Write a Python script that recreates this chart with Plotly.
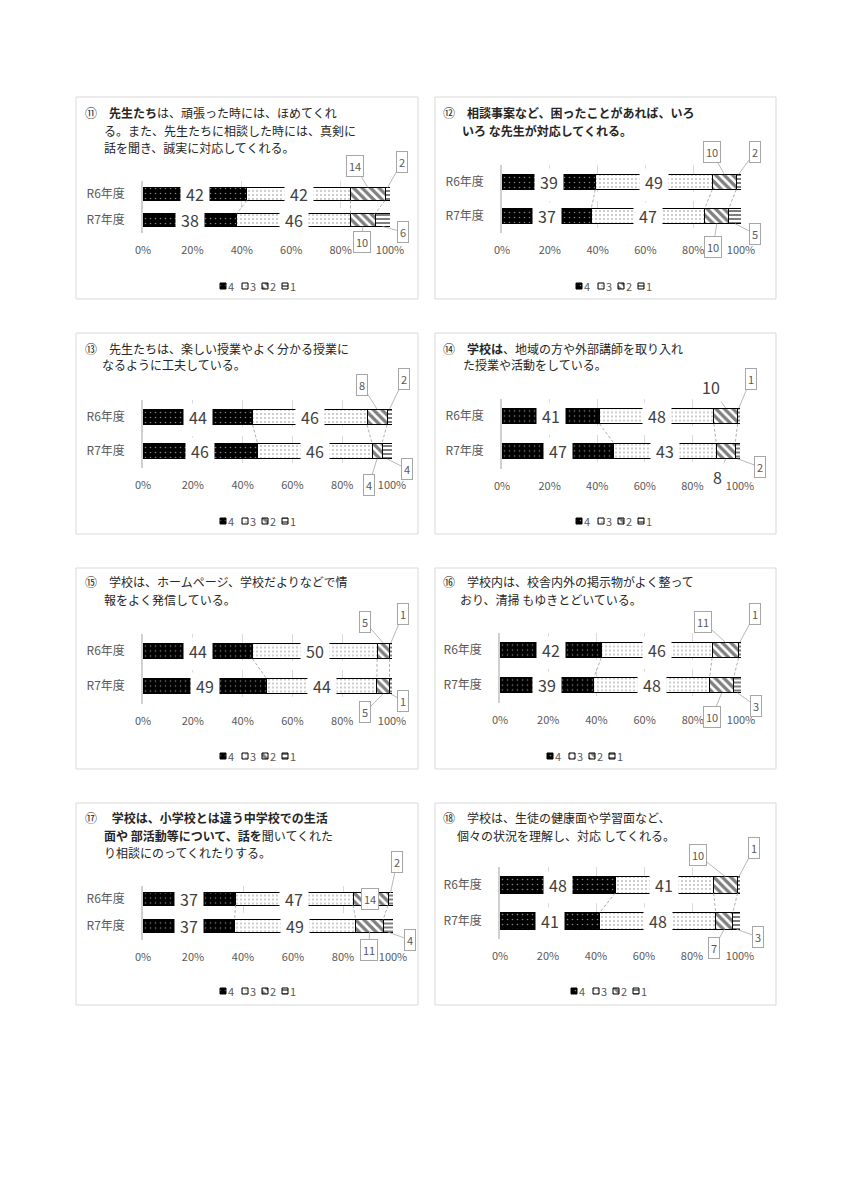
import plotly.graph_objects as go

# browser page is 849x1200; the html body adds an 8px margin
OX, OY = 8, 8
FW, FH = 833, 1182

years = ["R6年度", "R7年度"]
levels = ["4", "3", "2", "1"]
x_ticks = [0, 20, 40, 60, 80, 100]
x_tick_labels = ["0%", "20%", "40%", "60%", "80%", "100%"]

q11_r6 = [42, 42, 14, 2]
q11_r7 = [38, 46, 10, 6]
q12_r6 = [39, 49, 10, 2]
q12_r7 = [37, 47, 10, 5]
q13_r6 = [44, 46, 8, 2]
q13_r7 = [46, 46, 4, 4]
q14_r6 = [41, 48, 10, 1]
q14_r7 = [47, 43, 8, 2]
q15_r6 = [44, 50, 5, 1]
q15_r7 = [49, 44, 5, 1]
q16_r6 = [42, 46, 11, 1]
q16_r7 = [39, 48, 10, 3]
q17_r6 = [37, 47, 14, 2]
q17_r7 = [37, 49, 11, 4]
q18_r6 = [48, 41, 10, 1]
q18_r7 = [41, 48, 7, 3]

q11_title = ["⑪　<b>先生たち</b>は、頑張った時には、ほめてくれ",
             "る。また、先生たちに相談した時には、真剣に",
             "話を聞き、誠実に対応してくれる。"]
q12_title = ["⑫　<b>相談事案など、困ったことがあれば、いろ</b>",
             "<b>いろ な先生が対応してくれる。</b>"]
q13_title = ["⑬　先生たちは、楽しい授業やよく分かる授業に",
             "なるように工夫している。"]
q14_title = ["⑭　<b>学校は</b>、地域の方や外部講師を取り入れ",
             "た授業や活動をしている。"]
q15_title = ["⑮　学校は、ホームページ、学校だよりなどで情",
             "報をよく発信している。"]
q16_title = ["⑯　学校内は、校舎内外の掲示物がよく整って",
             "おり、清掃 もゆきとどいている。"]
q17_title = ["⑰　 <b>学校は、小学校とは違う中学校での生活</b>",
             "<b>面や 部活動等について、話を</b>聞いてくれた",
             "り相談にのってくれたりする。"]
q18_title = ["⑱　学校は、生徒の健康面や学習面など、",
             "個々の状況を理解し、対応 してくれる。"]

# ---- layout / style specs (pixel positions on the page) ----
panels = [
    dict(data=(q11_r6, q11_r7), title=q11_title, box=(76, 97, 418, 299), px=(143, 390),
         rows=(194, 220), bw=0.5, tx=(83, 102), ty=113, legend=(220, 286),
         callouts=[(355, 166, True), (402, 162, True), (362, 242, True), (403, 232, True)]),
    dict(data=(q12_r6, q12_r7), title=q12_title, box=(435, 97, 776, 299), px=(502, 741),
         rows=(182, 216), bw=0.45, tx=(441, 460), ty=113, legend=(576, 286),
         callouts=[(712, 152, True), (755, 152, True), (713, 247, True), (755, 234, True)]),
    dict(data=(q13_r6, q13_r7), title=q13_title, box=(76, 333, 418, 534), px=(143, 392),
         rows=(417, 451), bw=0.46, tx=(83, 100), ty=348, legend=(220, 521),
         callouts=[(362, 385, True), (404, 379, True), (369, 485, True), (407, 469, True)]),
    dict(data=(q14_r6, q14_r7), title=q14_title, box=(435, 333, 776, 534), px=(502, 740),
         rows=(416, 451), bw=0.45, tx=(441, 461), ty=348, legend=(576, 521),
         callouts=[(711, 387, False), (751, 379, True), (717, 477, False), (760, 467, True)]),
    dict(data=(q15_r6, q15_r7), title=q15_title, box=(76, 568, 418, 769), px=(143, 392),
         rows=(651, 686), bw=0.45, tx=(83, 102), ty=582, legend=(220, 756),
         callouts=[(365, 622, True), (403, 614, True), (365, 712, True), (403, 701, True)]),
    dict(data=(q16_r6, q16_r7), title=q16_title, box=(435, 568, 776, 769), px=(500, 741),
         rows=(650, 685), bw=0.45, tx=(441, 458), ty=582, legend=(547, 756),
         callouts=[(703, 622, True), (755, 614, True), (712, 717, True), (756, 706, True)]),
    dict(data=(q17_r6, q17_r7), title=q17_title, box=(76, 803, 418, 1005), px=(143, 393),
         rows=(899, 926), bw=0.45, tx=(83, 102), ty=818, legend=(220, 991),
         callouts=[(370, 899, True), (397, 862, True), (369, 950, True), (410, 940, True)]),
    dict(data=(q18_r6, q18_r7), title=q18_title, box=(435, 803, 776, 1005), px=(500, 740),
         rows=(885, 921), bw=0.45, tx=(441, 455), ty=818, legend=(571, 991),
         callouts=[(698, 855, True), (754, 848, True), (714, 948, True), (758, 937, True)]),
]

seg_style = [
    dict(color="black", pattern=dict(shape=".", fgcolor="white", bgcolor="black", size=5, solidity=0.08)),
    dict(color="white", pattern=dict(shape=".", fgcolor="black", bgcolor="white", size=4, solidity=0.1)),
    dict(color="white", pattern=dict(shape="\\", fgcolor="black", bgcolor="white", size=6, solidity=0.55)),
    dict(color="white", pattern=dict(shape="-", fgcolor="black", bgcolor="white", size=4, solidity=0.5)),
]


def fx(px):
    return (px - OX) / FW


def fy(py):
    return 1 - (py - OY) / FH


FONT = "Noto Sans CJK JP"
GRAY = "#595959"
fig = go.Figure()
layout = dict(width=FW, height=FH, margin=dict(l=0, r=0, t=0, b=0, autoexpand=False),
              paper_bgcolor="white", plot_bgcolor="rgba(0,0,0,0)", barmode="stack",
              barnorm="percent", font=dict(family=FONT, color=GRAY), showlegend=False)
annotations = []
shapes = []

# overlay axis in page pixels (used for the small legend keys)
layout["xaxis9"] = dict(domain=[0, 1], range=[OX, OX + FW], visible=False, fixedrange=True,
                        anchor="y9")
layout["yaxis9"] = dict(domain=[0, 1], range=[OY + FH, OY], visible=False, fixedrange=True,
                        anchor="x9")

for i, p in enumerate(panels):
    n = i + 1
    sfx = "" if n == 1 else str(n)
    xref, yref = "x" + sfx, "y" + sfx
    x0, x1 = p["px"]
    r6y, r7y = p["rows"]
    step = r7y - r6y
    top, bot = r6y - step / 2, r7y + step / 2
    bw = p["bw"]
    rows = p["data"]

    layout["xaxis" + sfx] = dict(domain=[fx(x0), fx(x1)], range=[0, 100], anchor=yref,
                                 tickvals=x_ticks, ticktext=x_tick_labels, showgrid=True,
                                 gridcolor="#d9d9d9", griddash="dash", zeroline=False,
                                 tickfont=dict(size=11, color=GRAY), ticklabelstandoff=9,
                                 automargin=False, fixedrange=True)
    layout["yaxis" + sfx] = dict(domain=[fy(bot), fy(top)], anchor=xref,
                                 type="category", categoryorder="array", categoryarray=years,
                                 range=[1.5, -0.5], showgrid=False, showline=True,
                                 linecolor="#d0d0d0", linewidth=1.5,
                                 tickfont=dict(size=12, color=GRAY), ticklabelstandoff=14,
                                 automargin=False, fixedrange=True)

    for k, lev in enumerate(levels):
        st = seg_style[k]
        fig.add_trace(go.Bar(
            y=years, x=[rows[0][k], rows[1][k]], orientation="h", name=lev,
            marker=dict(color=st["color"], line=dict(color="black", width=1), pattern=st["pattern"]),
            width=bw, xaxis=xref, yaxis=yref, hoverinfo="skip"))

    # legend keys (pattern squares) + labels
    lx, ly = p["legend"]
    gaps = [0, 22, 42, 62]
    for k, lev in enumerate(levels):
        st = seg_style[k]
        sx = lx + gaps[k]
        s = 6
        fig.add_trace(go.Scatter(
            x=[sx, sx + s, sx + s, sx, sx], y=[ly - s / 2, ly - s / 2, ly + s / 2, ly + s / 2, ly - s / 2],
            mode="lines", fill="toself", fillcolor=st["color"], fillpattern=st["pattern"],
            line=dict(color="black", width=1), xaxis="x9", yaxis="y9", hoverinfo="skip"))
        annotations.append(dict(x=sx + s + 1, y=ly, xref="x9", yref="y9", xanchor="left",
                                yanchor="middle", text=lev, showarrow=False, borderpad=0,
                                font=dict(size=11, color=GRAY)))

    # normalized cumulative positions
    cums = []
    for r in rows:
        tot = sum(r)
        c, acc = [], 0
        for v in r:
            acc += v / tot * 100
            c.append(acc)
        cums.append(c)

    # series lines
    for k in range(3):
        shapes.append(dict(type="line", xref=xref, yref=yref, x0=cums[0][k], y0=0 + bw / 2,
                           x1=cums[1][k], y1=1 - bw / 2,
                           line=dict(color="#9a9a9a", width=0.8, dash="3px,2px"),
                           layer="above"))

    # inside labels for levels 4 and 3
    for ri, r in enumerate(rows):
        for k in range(2):
            start = 0 if k == 0 else cums[ri][k - 1]
            mid = (start + cums[ri][k]) / 2
            annotations.append(dict(x=mid, y=years[ri], xref=xref, yref=yref, text=str(r[k]),
                                    showarrow=False, bgcolor="white", width=26, borderpad=1,
                                    font=dict(size=16, color="#404040")))

    # callouts for levels 2 and 1
    ci = 0
    for ri, r in enumerate(rows):
        for k in (2, 3):
            bx, by, boxed = p["callouts"][ci]
            ci += 1
            mid = (cums[ri][k - 1] + cums[ri][k]) / 2
            tip_y_idx = ri - bw / 2 if ri == 0 else ri + bw / 2
            tip_px = x0 + mid / 100 * (x1 - x0)
            tip_py = (r6y if ri == 0 else r7y) + (-1 if ri == 0 else 1) * bw / 2 * step
            annotations.append(dict(
                x=mid, y=tip_y_idx, xref=xref, yref=yref, text=str(r[k]), showarrow=True,
                arrowhead=0, arrowwidth=0.8, arrowcolor="#a6a6a6",
                ax=bx - tip_px, ay=by - tip_py, axref="pixel", ayref="pixel",
                bgcolor="white" if boxed else "rgba(0,0,0,0)",
                bordercolor="#a6a6a6" if boxed else "rgba(0,0,0,0)", borderwidth=1, borderpad=2,
                font=dict(size=11 if boxed else 16, color=GRAY if boxed else "#404040")))

    # panel border
    bx0, by0, bx1, by1 = p["box"]
    shapes.append(dict(type="rect", xref="paper", yref="paper", x0=fx(bx0), x1=fx(bx1),
                       y0=fy(by1), y1=fy(by0), line=dict(color="#d9d9d9", width=1),
                       fillcolor="rgba(0,0,0,0)", layer="below"))

    # title lines
    for li, line in enumerate(p["title"]):
        tx = p["tx"][0] if li == 0 else p["tx"][1]
        annotations.append(dict(x=fx(tx), y=fy(p["ty"] + 17 * li), xref="paper",
                                yref="paper", xanchor="left", yanchor="middle", text=line,
                                showarrow=False, font=dict(size=12, color="#262626")))

layout["annotations"] = annotations
layout["shapes"] = shapes
fig.update_layout(**layout)
fig.write_html("out.html")
